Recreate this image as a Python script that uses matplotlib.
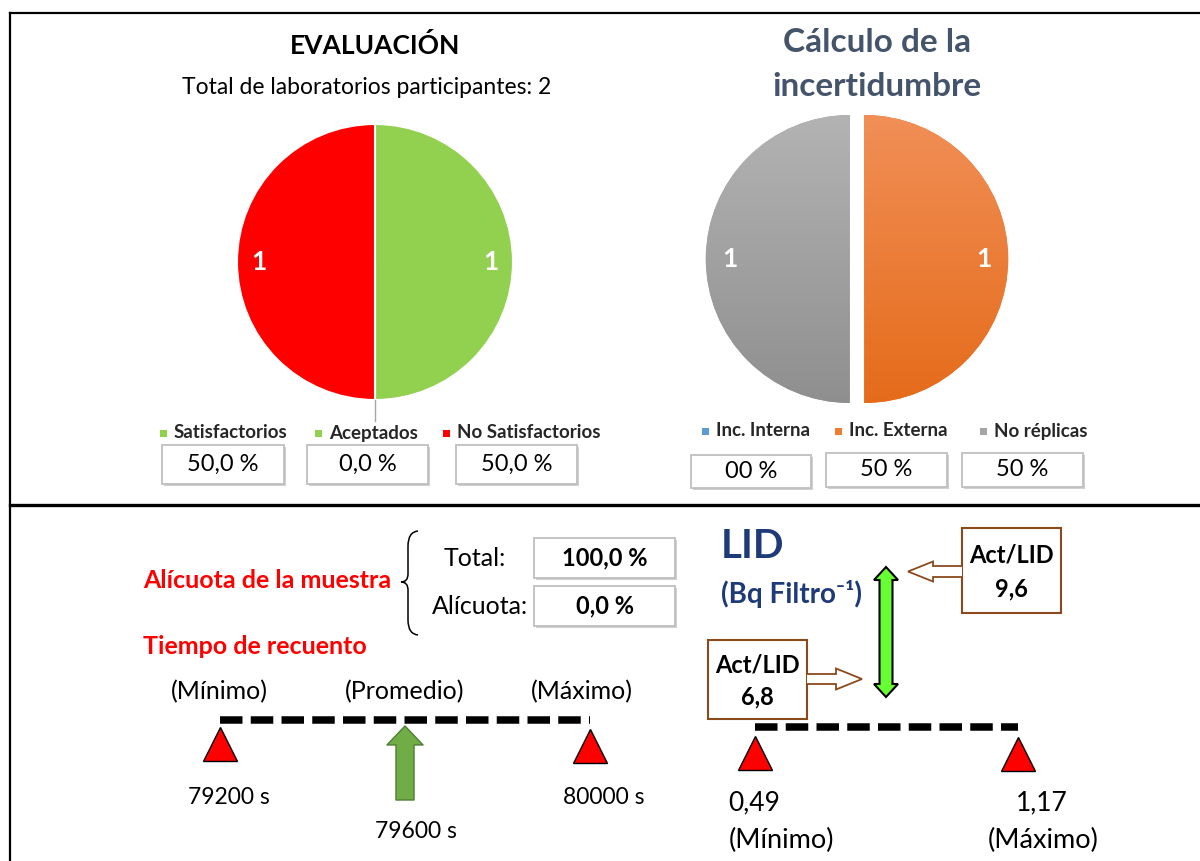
import numpy as np
import matplotlib
matplotlib.use('Agg')
import matplotlib.pyplot as plt
from matplotlib.patches import Rectangle, Polygon, PathPatch
from matplotlib.path import Path
from matplotlib.colors import LinearSegmentedColormap

plt.rcParams['font.family'] = ['Lato', 'DejaVu Sans']

W, H = 1200, 861

# evaluation pie
eval_labels = ['Satisfactorios', 'Aceptados', 'No Satisfactorios']
eval_counts = [1, 0, 1]
eval_colors = ['#92D050', '#92D050', '#FF0000']
eval_pct_text = ['50,0 %', '0,0 %', '50,0 %']
n_labs = 2

# uncertainty pie
unc_labels = ['Inc. Interna', 'Inc. Externa', 'No réplicas']
unc_counts = [0, 1, 1]
unc_colors = ['#5B9BD5', '#ED7D31', '#A5A5A5']
unc_grad = [('#7FB1E0', '#3F86C8'), ('#F18F57', '#E56B1A'), ('#B3B3B3', '#8F8F8F')]
unc_pct_text = ['00 %', '50 %', '50 %']

# sample aliquot
aliq_labels = ['Total:', 'Alícuota:']
aliq_text = ['100,0 %', '0,0 %']

# counting time (s)
t_names = ['(Mínimo)', '(Promedio)', '(Máximo)']
t_values = [79200, 79600, 80000]

# LID (Bq/filter)
lid_values = [0.49, 1.17]
lid_names = ['(Mínimo)', '(Máximo)']
act_lid = [6.8, 9.6]

TXT = '#262626'


def px_axes(x0, y0, x1, y1):
    return fig.add_axes([x0 / W, 1 - y1 / H, (x1 - x0) / W, (y1 - y0) / H])


def comma(v, nd):
    return '{0:.{1}f}'.format(v, nd).replace('.', ',')


def value_box(x0, y0, x1, y1, text, size=17, weight='normal'):
    ax.add_patch(Rectangle((x0 + 1.5, y0 + 1.5), x1 - x0, y1 - y0, fc='#D0D0D0', ec='none'))
    ax.add_patch(Rectangle((x0, y0), x1 - x0, y1 - y0, fc='white', ec='#BFBFBF', lw=1.3))
    ax.text((x0 + x1) / 2, (y0 + y1) / 2, text, ha='center', va='center',
            fontsize=size, fontweight=weight, color='black')


def legend_item(x, y, color, label):
    ax.add_patch(Rectangle((x - 3.5, y - 3.5), 7, 7, fc=color, ec='none'))
    ax.text(x + 11, y, label, ha='left', va='center', fontsize=13.5, fontweight='bold', color=TXT)


fig = plt.figure(figsize=(12, 8.61), dpi=100)
ax = fig.add_axes([0, 0, 1, 1])
ax.set_xlim(0, W)
ax.set_ylim(H, 0)
ax.axis('off')

# frame
ax.plot([10, W], [13, 13], color='black', lw=1.6)
ax.plot([10, 10], [13, H], color='black', lw=1.6)
ax.plot([10, W], [505, 505], color='black', lw=2.4)

# ---- evaluation pie
ax.text(375, 46, 'EVALUACIÓN', ha='center', va='center', fontsize=19, fontweight='bold', color='black')
ax.text(367, 87, 'Total de laboratorios participantes: {0}'.format(n_labs), ha='center', va='center',
        fontsize=16.5, color='black')

r1 = 138
ax_p1 = px_axes(375 - 1.2 * r1, 262 - 1.2 * r1, 375 + 1.2 * r1, 262 + 1.2 * r1)
tot1 = sum(eval_counts)
wedges1, _, auto1 = ax_p1.pie(eval_counts, colors=eval_colors, startangle=90, counterclock=False,
                              autopct=lambda p: '%d' % round(p * tot1 / 100) if p > 0 else '',
                              pctdistance=0.84, wedgeprops=dict(edgecolor='white', linewidth=1.5),
                              textprops=dict(color='white', fontsize=19, fontweight='bold'))
th = np.deg2rad(wedges1[1].theta1)
ax_p1.plot([np.cos(th), 1.15 * np.cos(th)], [np.sin(th), 1.15 * np.sin(th)], color='#A6A6A6', lw=1)
ax_p1.set_xlim(-1.2, 1.2)
ax_p1.set_ylim(-1.2, 1.2)

for x, c, lab in zip([163, 318, 446], eval_colors, eval_labels):
    legend_item(x, 433, c, lab)
for (x0, x1), txt in zip([(162, 284), (307, 428), (456, 577)], eval_pct_text):
    value_box(x0, 445, x1, 484, txt)

# ---- uncertainty pie
ax.text(877, 43, 'Cálculo de la', ha='center', va='center', fontsize=24, fontweight='bold', color='#44546A')
ax.text(877, 87, 'incertidumbre', ha='center', va='center', fontsize=24, fontweight='bold', color='#44546A')

r2 = 144
ax_p2 = px_axes(857 - 1.2 * r2, 259 - 1.2 * r2, 857 + 1.2 * r2, 259 + 1.2 * r2)
tot2 = sum(unc_counts)
wedges2, _, auto2 = ax_p2.pie(unc_counts, colors=unc_colors, startangle=90, counterclock=False,
                              explode=[0.05] * 3,
                              autopct=lambda p: '%d' % round(p * tot2 / 100) if p > 0 else '',
                              pctdistance=0.83, wedgeprops=dict(linewidth=0),
                              textprops=dict(color='white', fontsize=19, fontweight='bold'))
grad = np.linspace(0, 1, 256).reshape(-1, 1)
for w, (c_top, c_bot) in zip(wedges2, unc_grad):
    cmap = LinearSegmentedColormap.from_list('g', [c_top, c_bot])
    im = ax_p2.imshow(grad, cmap=cmap, extent=(-1.2, 1.2, -1, 1), origin='upper', aspect='auto', zorder=2)
    im.set_clip_path(w)
for t in auto2:
    t.set_zorder(5)
ax_p2.set_xlim(-1.2, 1.2)
ax_p2.set_ylim(-1.2, 1.2)
ax_p2.axis('off')

for x, c, lab in zip([705, 838, 983], unc_colors, unc_labels):
    legend_item(x, 431, c, lab)
for (x0, x1, y0, y1), txt in zip([(691, 811, 455, 488), (826, 947, 453, 487), (962, 1083, 453, 487)],
                                 unc_pct_text):
    value_box(x0, y0, x1, y1, txt)

# ---- sample aliquot
ax.text(143, 580, 'Alícuota de la muestra', ha='left', va='center', fontsize=18, fontweight='bold', color='#FF0000')
brace = Path([(418, 531), (408, 532), (408, 546), (408, 574), (408, 582), (401, 582), (408, 582),
              (408, 590), (408, 620), (408, 634), (418, 635)],
             [Path.MOVETO, Path.CURVE3, Path.CURVE3, Path.LINETO, Path.CURVE3, Path.CURVE3,
              Path.CURVE3, Path.CURVE3, Path.LINETO, Path.CURVE3, Path.CURVE3])
ax.add_patch(PathPatch(brace, fc='none', ec='black', lw=1.1))
for (y0, y1), lab, txt, xc in zip([(538, 578), (586, 626)], aliq_labels, aliq_text, [475, 480]):
    ax.text(xc, (y0 + y1) / 2, lab, ha='center', va='center', fontsize=18, color='black')
    value_box(534, y0, 675, y1, txt, size=17, weight='bold')

# ---- counting time
ax.text(143, 646, 'Tiempo de recuento', ha='left', va='center', fontsize=18, fontweight='bold', color='#FF0000')

tmin, tavg, tmax = t_values
axt1 = px_axes(220, 0, 590, H)
axt1.set_xlim(tmin, tmax)
axt1.set_ylim(H, 0)
axt1.axis('off')
axt1.plot([tmin, tmax], [719.5, 719.5], color='black', lw=5.4, dashes=(3, 1.1),
          dash_capstyle='butt', clip_on=False)
axt1.plot([tmin, tmax], [744, 746], ls='none', marker='^', ms=24, mfc='#FF0000', mec='black',
          mew=1, clip_on=False)
axt1.annotate('', xy=(tavg, 726), xytext=(tavg, 800),
              arrowprops=dict(arrowstyle='simple,head_length=1.05,head_width=2.0,tail_width=1.0',
                              mutation_scale=13, fc='#70AD47', ec='#507E32', lw=1,
                              shrinkA=0, shrinkB=0))
for v, name, dx in zip(t_values, t_names, [-1, 0, -8]):
    axt1.annotate(name, xy=(v, 692), xytext=(dx, 0), textcoords='offset pixels',
                  ha='center', va='center', fontsize=18, color='black', annotation_clip=False)
for v, dx, y in zip(t_values, [9, 11, 14], [797, 832, 797]):
    axt1.annotate('{0} s'.format(v), xy=(v, y), xytext=(dx, 0), textcoords='offset pixels',
                  ha='center', va='center', fontsize=16.5, color='black', annotation_clip=False)

# ---- LID
NAVY = '#1F3A78'
ax.text(721, 547, 'LID', ha='left', va='center', fontsize=29, fontweight='bold', color=NAVY)
ax.text(721, 594, '(Bq Filtro\u207b\u00b9)', ha='left', va='center', fontsize=20, fontweight='bold', color=NAVY)

# double arrow
xa, ya0, ya1, hw, hl, sw = 886, 567, 697, 12, 13, 6.5
ax.add_patch(Polygon([(xa, ya0), (xa + hw, ya0 + hl), (xa + sw, ya0 + hl), (xa + sw, ya1 - hl),
                      (xa + hw, ya1 - hl), (xa, ya1), (xa - hw, ya1 - hl), (xa - sw, ya1 - hl),
                      (xa - sw, ya0 + hl), (xa - hw, ya0 + hl)], closed=True,
                     fc='#66FF33', ec='black', lw=1.5))

# callouts
BROWN = '#8B4A1C'
for (bx0, by0, bx1, by1), v, side in zip([(708, 640, 807, 719), (962, 528, 1061, 613)], act_lid,
                                        ['right', 'left']):
    ax.add_patch(Rectangle((bx0, by0), bx1 - bx0, by1 - by0, fc='white', ec=BROWN, lw=1.5))
    cx = (bx0 + bx1) / 2
    ax.text(cx, by0 + 0.32 * (by1 - by0), 'Act/LID', ha='center', va='center', fontsize=17,
            fontweight='bold', color='black')
    ax.text(cx, by0 + 0.72 * (by1 - by0), comma(v, 1), ha='center', va='center', fontsize=17,
            fontweight='bold', color='black')
    if side == 'right':
        yc = 679
        pts = [(bx1, yc - 5), (836, yc - 5), (836, yc - 10.5), (862, yc), (836, yc + 10.5),
               (836, yc + 5), (bx1, yc + 5)]
    else:
        yc = 571.5
        pts = [(bx0, yc - 5.5), (933, yc - 5.5), (933, yc - 10), (908, yc), (933, yc + 10),
               (933, yc + 5.5), (bx0, yc + 5.5)]
    ax.add_patch(Polygon(pts, closed=False, fc='white', ec=BROWN, lw=1.3, zorder=3))

lmin, lmax = lid_values
axt2 = px_axes(755, 0, 1018, H)
axt2.set_xlim(lmin, lmax)
axt2.set_ylim(H, 0)
axt2.axis('off')
axt2.plot([lmin, lmax], [727, 727], color='black', lw=5.4, dashes=(3, 1.1),
          dash_capstyle='butt', clip_on=False)
axt2.plot([lmin, lmax], [753, 754], ls='none', marker='^', ms=24, mfc='#FF0000', mec='black',
          mew=1, clip_on=False)
for v, name, dx1, dx2 in zip(lid_values, lid_names, [-1, 24], [26, 25]):
    axt2.annotate(comma(v, 2), xy=(v, 803), xytext=(dx1, 0), textcoords='offset pixels',
                  ha='center', va='center', fontsize=19, color='black', annotation_clip=False)
    axt2.annotate(name, xy=(v, 840), xytext=(dx2, 0), textcoords='offset pixels',
                  ha='center', va='center', fontsize=19.5, color='black', annotation_clip=False)

fig.savefig('out.png', dpi=100)
